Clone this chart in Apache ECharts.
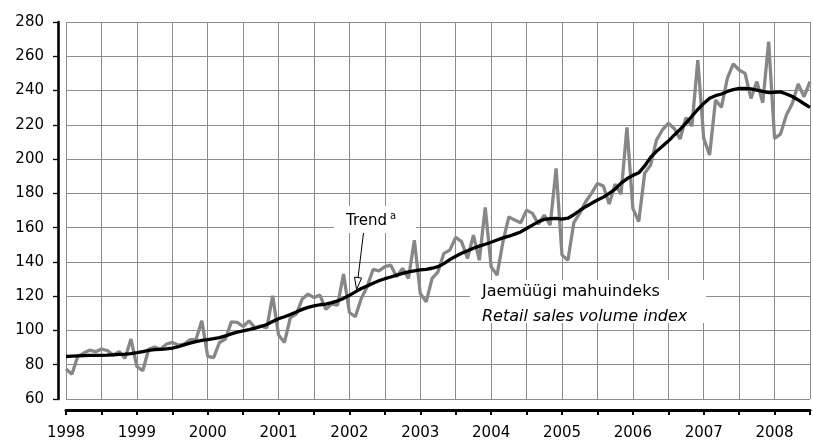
<!DOCTYPE html>
<html><head><meta charset="utf-8">
<script src="https://cdn.jsdelivr.net/npm/echarts@6/dist/echarts.min.js"></script>
<style>html,body{margin:0;padding:0;background:#fff}#c{width:813px;height:441px}</style>
</head><body><div id="c"></div>
<script>
// Monthly data, January 1998 .. July 2008
const yearLabels = ['1998','1999','2000','2001','2002','2003','2004','2005','2006','2007','2008'];
const yTickValues = [60,80,100,120,140,160,180,200,220,240,260,280];
const retailIndex = [
  77.5, 74.4, 84.9, 86.8, 88.5, 87.6, 89.1, 88.3, 85.6, 87.6, 83.7, 95,
  79, 76.5, 89, 90.3, 89, 92, 93, 91.5, 92, 94.6, 94.6, 105.6,
  84.9, 84.1, 93, 95, 105, 104.7, 102.3, 105.6, 101.7, 102.7, 101.5, 120.2,
  97.3, 93, 107.6, 109.5, 118.3, 121.2, 119.2, 120.6, 112.3, 115.4, 114.8, 132.9,
  110.5, 108, 118.7, 125.5, 135.6, 134.8, 137.2, 138.1, 131.3, 136.2, 130.4, 152.7,
  121.6, 116.7, 130.4, 134.2, 145, 146.9, 154.3, 151.8, 142, 155.6, 141, 171.8,
  137.2, 132.3, 151.8, 166.3, 164.4, 162.8, 170.2, 168.3, 162, 167.3, 161.5, 194.6,
  144, 141, 162.9, 168.3, 175.1, 180, 185.8, 184.3, 173.8, 185.4, 179.6, 218.5,
  171.2, 163.5, 191.7, 196.5, 211.1, 217, 220.9, 217.9, 211.7, 224.2, 219.3, 257.8,
  212.1, 202.4, 234.5, 230.2, 247.1, 255.5, 252, 250, 235.4, 245.2, 232.9, 268.5,
  212.1, 214.6, 225.7, 232.5, 243.8, 236.4, 245.2
];
const trendValues = [
  84.8, 85.0, 85.2, 85.3, 85.4, 85.4, 85.5, 85.6, 85.8, 86.0, 86.2, 86.5,
  87.0, 87.7, 88.4, 88.8, 89.0, 89.2, 89.7, 90.5, 91.6, 92.6, 93.5, 94.2,
  94.7, 95.2, 95.8, 96.8, 98.0, 99.0, 99.8, 100.5, 101.3, 102.3, 103.5, 105.2,
  106.8, 108.0, 109.3, 110.8, 112.3, 113.5, 114.3, 115.0, 115.4, 116.2, 117.3, 118.7,
  120.5, 122.5, 124.5, 126.0, 127.6, 129.0, 130.2, 131.2, 132.3, 133.3, 134.2, 134.8,
  135.3, 135.7, 136.3, 137.2, 139.0, 141.3, 143.3, 145.0, 146.5, 148.0, 149.2, 150.3,
  151.5, 152.8, 154.0, 155.0, 156.2, 157.5, 159.5, 161.5, 163.5, 164.8, 165.3, 165.4,
  165.0, 165.5, 167.5, 170.0, 172.2, 174.2, 176.1, 177.8, 180.0, 182.5, 186.0, 188.5,
  190.5, 192.0, 196.0, 201.0, 204.5, 207.5, 210.5, 214.0, 217.3, 221.0, 225.0, 229.0,
  232.5, 235.5, 237.0, 238.0, 239.5, 240.5, 241.2, 241.3, 241.0, 240.3, 239.5, 238.8,
  239.0, 239.2, 238.0, 236.5, 234.5, 232.3, 230.2
];

const FONT = 'DejaVu Sans';
const chart = echarts.init(document.getElementById('c'), null, {renderer: 'canvas'});

// arrow geometry (annotation)
const aS = [363.5, 233], aT = [356.6, 289.5];
const dx = aT[0]-aS[0], dy = aT[1]-aS[1], L = Math.hypot(dx, dy);
const ux = dx/L, uy = dy/L, hl = 12, hw = 3.6;
const bx = aT[0]-ux*hl, by = aT[1]-uy*hl;

const option = {
  animation: false,
  backgroundColor: '#fff',
  grid: {left: 66, right: 1, top: 22, bottom: 41.7, containLabel: false},
  xAxis: {
    type: 'value', min: 0, max: retailIndex.length - 1, interval: 6, offset: 11,
    axisLine: {show: true, onZero: false, lineStyle: {color: '#000', width: 3}},
    axisTick: {show: true, length: 5, lineStyle: {color: '#000', width: 2}},
    axisLabel: {margin: 16, fontFamily: FONT, fontSize: 15, color: '#000',
      formatter: v => (v % 12 === 0 ? (yearLabels[v / 12] || '') : '')},
    splitLine: {show: true, lineStyle: {color: '#8c8c8c', width: 1}}
  },
  yAxis: {
    type: 'value', min: yTickValues[0], max: yTickValues[yTickValues.length-1], interval: 20, offset: 8,
    axisLine: {show: true, onZero: false, lineStyle: {color: '#000', width: 2.6}},
    axisTick: {show: true, length: 5, lineStyle: {color: '#000', width: 1.3}},
    axisLabel: {margin: 14, fontFamily: FONT, fontSize: 15, color: '#000'},
    splitLine: {show: true, lineStyle: {color: '#8c8c8c', width: 1}}
  },
  series: [
    {type: 'line', data: retailIndex.map((v, i) => [i, v]), symbol: 'none', z: 2,
     lineStyle: {color: '#878787', width: 3.3}},
    {type: 'line', data: trendValues.map((v, i) => [i, v]), symbol: 'none', z: 3,
     lineStyle: {color: '#000', width: 3.3}}
  ],
  graphic: [
    {type: 'rect', z: 10, shape: {x: 334, y: 206, width: 82, height: 27}, style: {fill: '#fff'}},
    {type: 'text', z: 11, x: 346, y: 221, style: {text: 'Trend', font: '15px "DejaVu Sans"', fill: '#000', verticalAlign: 'middle'}},
    {type: 'text', z: 11, x: 390, y: 216.5, style: {text: 'a', font: '10px "DejaVu Sans"', fill: '#000', verticalAlign: 'middle'}},
    {type: 'line', z: 12, shape: {x1: aS[0], y1: aS[1], x2: bx, y2: by}, style: {stroke: '#000', lineWidth: 1}},
    {type: 'polygon', z: 12, shape: {points: [[aT[0], aT[1]], [bx - uy*hw, by + ux*hw], [bx + uy*hw, by - ux*hw]]},
     style: {fill: '#fff', stroke: '#000', lineWidth: 1}},
    {type: 'rect', z: 10, shape: {x: 470, y: 280, width: 236, height: 43}, style: {fill: '#fff'}},
    {type: 'text', z: 11, x: 482, y: 291.5, style: {text: 'Jaemüügi mahuindeks', font: '16px "DejaVu Sans"', fill: '#000', verticalAlign: 'middle'}},
    {type: 'text', z: 11, x: 482, y: 316.5, style: {text: 'Retail sales volume index', font: 'italic 16px "DejaVu Sans"', fill: '#000', verticalAlign: 'middle'}}
  ]
};
chart.setOption(option);
</script>
</body></html>
